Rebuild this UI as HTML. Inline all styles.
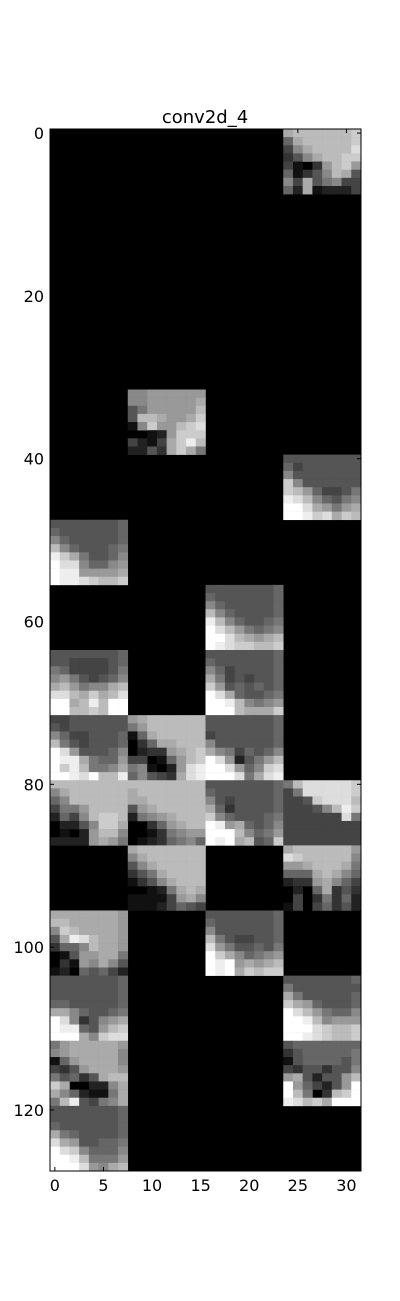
<!DOCTYPE html>
<html>
<head>
<meta charset="utf-8">
<style>
html,body{margin:0;padding:0;background:#fff;}
svg{display:block;}
text{font-family:"DejaVu Sans","Liberation Sans",sans-serif;fill:#000;}
</style>
</head>
<body>
<svg id="chart" width="400" height="1301" viewBox="0 0 400 1301" xmlns="http://www.w3.org/2000/svg">
<rect x="0" y="0" width="400" height="1301" fill="#fff"/>
<text x="205" y="123" font-size="18" text-anchor="middle">conv2d_4</text>
<g id="cells"></g>
<g id="axes"></g>
</svg>
<script>
// Grid dimensions (pixels of the feature-map image)
const nCols = 32;
const nRows = 128;
// Non-black 8x8 tiles: tile row, tile col, and 8 rows of gray levels (hex 0-f)
const tileRows = [0,4,5,6,7,8,8,9,9,9,10,10,10,10,11,11,12,12,13,13,14,14,15];
const tileCols = [3,1,3,0,2,0,2,0,1,2,0,1,2,3,1,3,0,2,0,3,0,3,0];
const tileValues = [
["abbbbbbc","6abbbbbc","48abbbbd","358abbcc","41039bc9","61358ba5","84a57844","62a12224"],
["88999999","8899999a","5799999b","5bba99ac","18c99bcd","00129ccc","4214aceb","2253aca7"],
["55555555","64555555","85555555","c8555555","cb964457","edb86578","ffda979a","ffecdacb"],
["55555556","65555556","86555556","b8655567","eca75568","fdd86689","fee9999a","feedcbbc"],
["55555556","65555556","86555556","b8655556","eb865567","fdb97678","ffdba9ab","fedccbbc"],
["55555556","55444456","76444457","89754568","ab9788ab","ddbacabd","ffabebff","ffbbcbff"],
["55555556","65555556","86455556","a7454556","c9565656","fda65567","ffeb8789","fffbaaac"],
["44555555","54555555","86445556","b7545556","fd955568","feea7669","fceb778a","ffedfbbe"],
["9abbbbbb","79bbbbbb","16abbbbb","036aabbb","02339abc","440169bc","781029de","68543ade"],
["55555556","55555556","45555556","85555556","a8746568","fd92579b","ffd968cd","fffd7ade"],
["bbbbbbbb","8abbbbbb","68bbbbbb","4779bbbb","2648bccb","02258cca","01029bb8","22229a97"],
["bbbbbbbb","abbbbbbb","aabbbbbb","59abbbbb","2789abbb","00369abb","00137899","01236786"],
["55555556","65555556","85455556","a6355556","c8655567","fe9a6568","fffb8679","fefab56c"],
["7bdddddc","47dddddc","445cdddb","44458bec","444444d7","44444444","44444444","44444444"],
["abbbbbbb","8abbbbbb","58abbbbb","357abbbb","1358abbb","00127aba","111149a8","11124654"],
["abbbbbb9","dcbbbbb8","99abbba7","666aba86","2339a864","0206a353","04037362","14046352"],
["aaaaaaa9","bbaaaaa9","8cbaaaa9","5aedbaa9","3668baa9","01599aa7","03198a85","12065642"],
["55555556","65555556","85555556","b7544556","d9755657","fca86789","fef9a9ab","fefacbcc"],
["55555556","55555556","55555556","66555556","aa865567","fd83589a","fee659bc","fffa8cdd"],
["55555556","75555555","a7555556","ca965556","fdb97668","ffeb8999","fffdcbbc","ffedcbbc"],
["79aaaaa9","89aaaaa8","169aaaa8","4359aaa9","75635abb","ca00228a","a862117a","7be5478a"],
["56666666","35666667","15666657","43553558","9a52559b","f964259f","fb703bcf","edbcafff"],
["55555556","55555556","65555556","a7655556","da955667","fdc86668","ffeb7779","fffd98ab"]
];

const svgNS = "http://www.w3.org/2000/svg";
const plotLeft = 50, plotRight = 361, plotTop = 129, plotBottom = 1171;
const cw = (plotRight - plotLeft) / nCols;
const ch = (plotBottom - plotTop) / nRows;
function xScale(c){ return plotLeft + c * cw; }
function yScale(r){ return plotTop + r * ch; }

const cells = document.getElementById('cells');
const bg = document.createElementNS(svgNS, 'rect');
bg.setAttribute('x', plotLeft); bg.setAttribute('y', plotTop);
bg.setAttribute('width', plotRight - plotLeft); bg.setAttribute('height', plotBottom - plotTop);
bg.setAttribute('fill', '#000');


cells.appendChild(bg);

for (let t = 0; t < tileValues.length; t++) {
  const tr = tileRows[t], tc = tileCols[t];
  for (let i = 0; i < 8; i++) {
    for (let j = 0; j < 8; j++) {
      const v = parseInt(tileValues[t][i][j], 16) * 17;
      if (v === 0) continue;
      const r = tr * 8 + i, c = tc * 8 + j;
      const x0 = xScale(c), x1 = xScale(c + 1), y0 = yScale(r), y1 = yScale(r + 1);
      const rect = document.createElementNS(svgNS, 'rect');
      rect.setAttribute('x', x0.toFixed(2));
      rect.setAttribute('y', y0.toFixed(2));
      rect.setAttribute('width', (x1 - x0 + 0.3).toFixed(2));
      rect.setAttribute('height', (y1 - y0 + 0.3).toFixed(2));
      rect.setAttribute('fill', 'rgb(' + v + ',' + v + ',' + v + ')');
      
      
      cells.appendChild(rect);
    }
  }
}

// Axes
const xTicks = [0,5,10,15,20,25,30];
const yTicks = [0,20,40,60,80,100,120];
const axes = document.getElementById('axes');
const frame = document.createElementNS(svgNS, 'rect');
frame.setAttribute('x', plotLeft); frame.setAttribute('y', plotTop);
frame.setAttribute('width', plotRight - plotLeft); frame.setAttribute('height', plotBottom - plotTop);
frame.setAttribute('fill', 'none'); frame.setAttribute('stroke', '#000'); frame.setAttribute('stroke-width', '1');


axes.appendChild(frame);

function line(x1,y1,x2,y2,name){
  const l = document.createElementNS(svgNS,'line');
  l.setAttribute('x1',x1); l.setAttribute('y1',y1); l.setAttribute('x2',x2); l.setAttribute('y2',y2);
  l.setAttribute('stroke','#000'); l.setAttribute('stroke-width','1');
  
  
  axes.appendChild(l);
}
xTicks.forEach(v => {
  const x = xScale(v + 0.5);
  line(x, plotBottom, x, plotBottom - 4, 'x-tick');
  line(x, plotTop, x, plotTop + 4, 'x-tick-top');
  const t = document.createElementNS(svgNS,'text');
  t.setAttribute('x', x); t.setAttribute('y', plotBottom + 20);
  t.setAttribute('font-size','16'); t.setAttribute('text-anchor','middle');
  t.textContent = v;
  
  
  axes.appendChild(t);
});
yTicks.forEach(v => {
  const y = yScale(v + 0.5);
  line(plotLeft, y, plotLeft + 4, y, 'y-tick');
  line(plotRight, y, plotRight - 4, y, 'y-tick-right');
  const t = document.createElementNS(svgNS,'text');
  t.setAttribute('x', plotLeft - 6); t.setAttribute('y', y + 6);
  t.setAttribute('font-size','16'); t.setAttribute('text-anchor','end');
  t.textContent = v;
  
  
  axes.appendChild(t);
});
</script>
</body>
</html>
